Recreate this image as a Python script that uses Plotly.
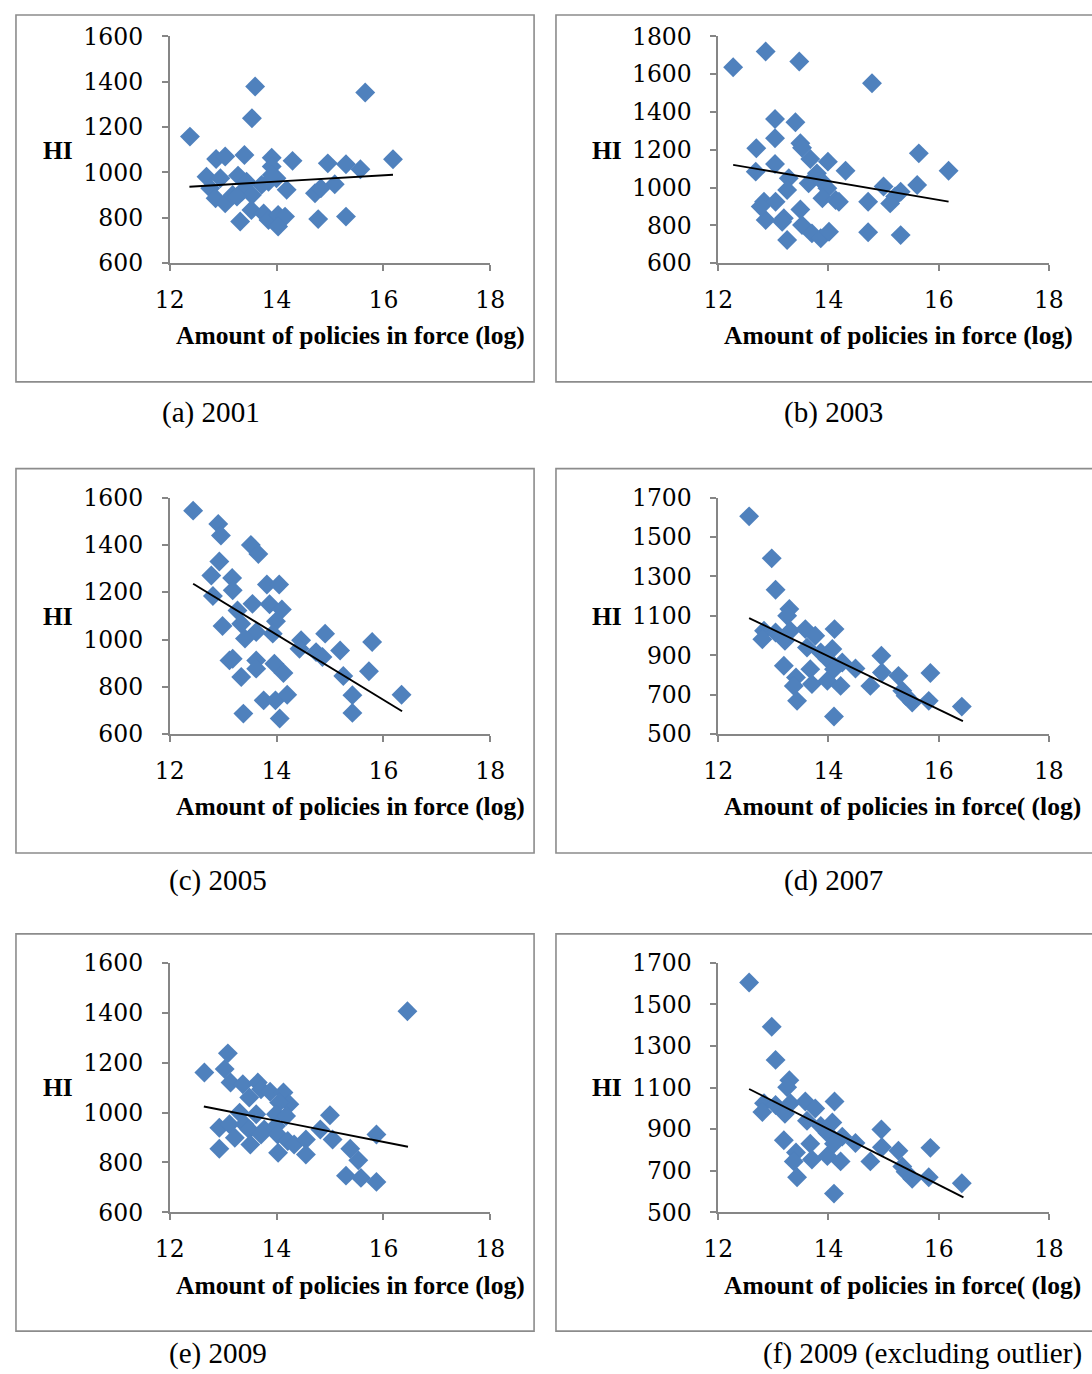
import plotly.graph_objects as go

W, H = 1092, 1374
# the photographed page is framed with a thin white border and rescaled;
# these constants map reference pixel positions onto page positions
SX, CX = 0.9767, 12.7
SY, CY = 0.9814, 12.5

# ---------------- data ----------------
x_2001 = [12.38, 13.60, 13.54, 15.66, 16.18, 12.87, 13.04, 13.40, 13.91, 14.30, 13.91, 14.96, 15.30, 15.57,
          12.69, 12.95, 13.28, 13.44, 13.85, 14.00, 14.19, 15.09, 14.72, 14.83, 12.76, 12.86, 13.04, 13.18,
          13.35, 13.54, 13.72, 13.53, 13.76, 13.32, 13.85, 14.03, 14.16, 14.03, 14.78, 15.30, 13.26, 13.91]
hi_2001 = [1158, 1379, 1239, 1353, 1058, 1059, 1070, 1077, 1065, 1051, 1026, 1040, 1036, 1014,
           981, 974, 986, 959, 959, 974, 923, 948, 908, 930, 930, 886, 864, 900,
           915, 900, 945, 834, 819, 783, 790, 812, 805, 761, 794, 805, 893, 989]
trend_x_2001 = [12.37, 16.18]
trend_hi_2001 = [937, 990]

x_2003 = [12.27, 12.86, 13.47, 14.79, 13.03, 13.40, 13.03, 12.69, 13.49, 13.52, 15.64, 12.68, 13.03, 13.67,
          13.99, 14.31, 13.79, 13.28, 13.25, 13.64, 13.89, 13.98, 13.89, 14.13, 14.19, 16.18, 15.00, 15.61,
          15.31, 15.21, 15.12, 14.72, 12.83, 13.04, 12.86, 13.19, 13.49, 13.25, 13.52, 13.70, 13.86, 14.01,
          14.72, 15.31, 13.16, 12.77]
hi_2003 = [1637, 1720, 1667, 1552, 1363, 1346, 1261, 1208, 1234, 1211, 1181, 1084, 1125, 1151,
           1137, 1089, 1075, 1049, 987, 1022, 1031, 996, 943, 934, 925, 1089, 1005, 1013,
           978, 952, 916, 925, 925, 925, 828, 837, 884, 722, 801, 757, 731, 766,
           763, 748, 819, 899]
trend_x_2003 = [12.27, 16.18]
trend_hi_2003 = [1120, 925]

x_2005 = [12.44, 12.91, 12.96, 13.52, 13.66, 12.93, 12.78, 13.17, 13.18, 13.82, 14.05, 12.81, 13.27, 13.55,
          13.87, 14.10, 13.99, 13.34, 12.99, 13.62, 13.93, 13.41, 14.46, 14.91, 14.43, 14.74, 14.86, 15.19,
          15.79, 13.18, 13.12, 13.62, 13.62, 13.96, 14.13, 13.34, 15.25, 15.73, 13.76, 13.98, 14.20, 15.42,
          16.34, 15.42, 13.38, 14.06]
hi_2005 = [1545, 1489, 1440, 1400, 1362, 1330, 1271, 1260, 1208, 1233, 1233, 1184, 1123, 1151,
           1149, 1127, 1077, 1067, 1057, 1032, 1025, 1004, 997, 1025, 961, 947, 926, 954,
           990, 919, 912, 912, 877, 898, 859, 842, 846, 866, 743, 743, 767, 765,
           767, 690, 687, 666]
trend_x_2005 = [12.44, 16.35]
trend_hi_2005 = [1236, 697]

x_2007 = [12.56, 12.97, 13.04, 13.29, 13.25, 12.83, 12.80, 13.04, 13.21, 13.31, 13.58, 13.76, 14.11, 13.61,
          13.86, 14.07, 13.98, 14.25, 14.49, 14.96, 14.97, 15.27, 15.85, 13.19, 13.67, 13.41, 13.37, 13.70,
          13.98, 14.22, 14.10, 14.76, 15.34, 15.52, 15.82, 16.42, 13.43, 14.10, 15.40]
hi_2007 = [1605, 1392, 1233, 1135, 1101, 1025, 982, 1016, 974, 1025, 1033, 999, 1033, 940,
           915, 932, 881, 864, 833, 898, 813, 796, 810, 847, 830, 788, 745, 754,
           771, 745, 830, 745, 720, 661, 669, 640, 669, 590, 695]
trend_x_2007 = [12.56, 16.44]
trend_hi_2007 = [1089, 566]

x_2009 = [16.45, 13.09, 12.65, 13.03, 13.14, 13.37, 13.65, 13.71, 13.88, 14.13, 13.49, 14.24, 14.05, 13.31,
          13.62, 13.99, 14.18, 15.00, 12.93, 13.12, 13.40, 13.49, 13.77, 13.99, 14.82, 13.22, 13.51, 13.71,
          14.02, 14.21, 14.33, 14.55, 15.05, 15.87, 12.93, 14.03, 14.55, 15.38, 15.53, 15.30, 15.58, 15.87]
hi_2009 = [1406, 1237, 1160, 1174, 1120, 1113, 1120, 1093, 1083, 1080, 1060, 1033, 1040, 999,
           993, 993, 986, 989, 939, 953, 953, 932, 932, 946, 932, 899, 872, 912,
           912, 886, 872, 892, 892, 912, 855, 839, 832, 855, 809, 747, 738, 722]
trend_x_2009 = [12.64, 16.46]
trend_hi_2009 = [1024, 863]

x_2009_ex = x_2007
hi_2009_ex = hi_2007
trend_x_2009_ex = [12.56, 16.45]
trend_hi_2009_ex = [1093, 572]

x_ticks = [12, 14, 16, 18]
x_title = "Amount of policies in force (log)"
x_title_alt = "Amount of policies in force( (log)"
captions = ["(a) 2001", "(b) 2003", "(c) 2005", "(d) 2007", "(e) 2009", "(f) 2009 (excluding outlier)"]

# ---------------- layout helpers (reference pixel -> paper) ----------------
def px_page(px):
    return (px - CX) / SX

def py_page(py):
    return (py - CY) / SY

def fx(px, clamp=False):
    v = px_page(px)
    if clamp:
        v = max(v, 1)
    return v / W

def fy(py, clamp=False):
    v = py_page(py)
    if clamp:
        v = max(v, 1)
    return 1 - v / H

K = 1 / ((SX + SY) / 2)  # size compensation

panels = [
    dict(x=x_2001, y=hi_2001, tx=trend_x_2001, ty=trend_hi_2001, yr=[600, 1600], dom_x=(168, 490), dom_y=(35, 262),
         box=(5, 7, 534, 381), hi=(56, 149), title=(172, 335, x_title), cap=(210, 412, "center")),
    dict(x=x_2003, y=hi_2003, tx=trend_x_2003, ty=trend_hi_2003, yr=[600, 1800], dom_x=(719, 1051), dom_y=(35, 262),
         box=(556, 7, 1130, 381), hi=(607, 149), title=(723, 335, x_title), cap=(835, 412, "center")),
    dict(x=x_2005, y=hi_2005, tx=trend_x_2005, ty=trend_hi_2005, yr=[600, 1600], dom_x=(168, 490), dom_y=(497, 734),
         box=(5, 468, 534, 853), hi=(56, 616), title=(172, 806, x_title), cap=(217, 881, "center")),
    dict(x=x_2007, y=hi_2007, tx=trend_x_2007, ty=trend_hi_2007, yr=[500, 1700], dom_x=(719, 1051), dom_y=(497, 734),
         box=(556, 468, 1130, 853), hi=(607, 616), title=(723, 806, x_title_alt), cap=(835, 881, "center")),
    dict(x=x_2009, y=hi_2009, tx=trend_x_2009, ty=trend_hi_2009, yr=[600, 1600], dom_x=(168, 490), dom_y=(963, 1213),
         box=(5, 934, 534, 1332), hi=(56, 1088), title=(172, 1286, x_title), cap=(217, 1354, "center")),
    dict(x=x_2009_ex, y=hi_2009_ex, tx=trend_x_2009_ex, ty=trend_hi_2009_ex, yr=[500, 1700], dom_x=(719, 1051),
         dom_y=(963, 1213), box=(556, 934, 1130, 1332), hi=(607, 1088), title=(723, 1286, x_title_alt),
         cap=(762, 1354, "left")),
]

AXC = "#868686"
BLUE = "#4F81BD"
TICKFONT = dict(family="DejaVu Serif", size=round(23 * K, 1), color="black")
BOLDFONT = dict(family="Liberation Serif", size=round(25 * K, 1), color="black")
CAPFONT = dict(family="Liberation Serif", size=round(28.5 * K, 1), color="black")

fig = go.Figure()
layout = dict(width=W, height=H, margin=dict(l=0, r=0, t=0, b=0), paper_bgcolor="white",
              plot_bgcolor="white", showlegend=False, shapes=[], annotations=[])

for i, p in enumerate(panels):
    n = "" if i == 0 else str(i + 1)
    xa, ya = "x" + n, "y" + n
    fig.add_trace(go.Scatter(x=p["x"], y=p["y"], mode="markers", xaxis=xa, yaxis=ya,
                             marker=dict(symbol="diamond", size=15 * K, color=BLUE, line=dict(width=0)),
                             hoverinfo="skip", cliponaxis=False))
    fig.add_trace(go.Scatter(x=p["tx"], y=p["ty"], mode="lines", xaxis=xa, yaxis=ya,
                             line=dict(color="black", width=1.9), hoverinfo="skip"))
    layout["xaxis" + n] = dict(domain=[fx(p["dom_x"][0]), fx(p["dom_x"][1])], range=[12, 18],
                               tickvals=x_ticks, anchor=ya, showgrid=False, zeroline=False,
                               showline=True, linecolor=AXC, linewidth=1.6, ticks="outside",
                               ticklen=6, tickwidth=1.6, tickcolor=AXC, tickfont=TICKFONT,
                               ticklabelstandoff=9)
    layout["yaxis" + n] = dict(domain=[fy(p["dom_y"][1]), fy(p["dom_y"][0])], range=p["yr"],
                               dtick=200, tick0=p["yr"][0], anchor=xa, showgrid=False, zeroline=False,
                               showline=True, linecolor=AXC, linewidth=1.6, ticks="outside",
                               ticklen=6, tickwidth=1.6, tickcolor=AXC, tickfont=TICKFONT,
                               ticklabelstandoff=14)
    bx0, by0, bx1, by1 = p["box"]
    layout["shapes"].append(dict(type="rect", xref="paper", yref="paper", x0=fx(bx0, True), x1=fx(bx1),
                                 y0=fy(by1), y1=fy(by0, True), line=dict(color="#8c8c8c", width=1.6),
                                 fillcolor="rgba(0,0,0,0)", layer="below"))
    layout["annotations"].append(dict(text="<b>HI</b>", xref="paper", yref="paper", x=fx(p["hi"][0]),
                                      y=fy(p["hi"][1]), xanchor="center", yanchor="middle",
                                      showarrow=False, font=BOLDFONT))
    layout["annotations"].append(dict(text="<b>" + p["title"][2] + "</b>", xref="paper", yref="paper",
                                      x=fx(p["title"][0]), y=fy(p["title"][1]), xanchor="left",
                                      yanchor="middle", showarrow=False, font=BOLDFONT))
    layout["annotations"].append(dict(text=captions[i], xref="paper", yref="paper", x=fx(p["cap"][0]),
                                      y=fy(p["cap"][1]), xanchor=p["cap"][2], yanchor="middle",
                                      showarrow=False, font=CAPFONT))

fig.update_layout(**layout)
fig.write_html("out.html", config={"displayModeBar": False},
               post_script="document.body.style.margin='0';document.body.style.overflow='hidden';")
